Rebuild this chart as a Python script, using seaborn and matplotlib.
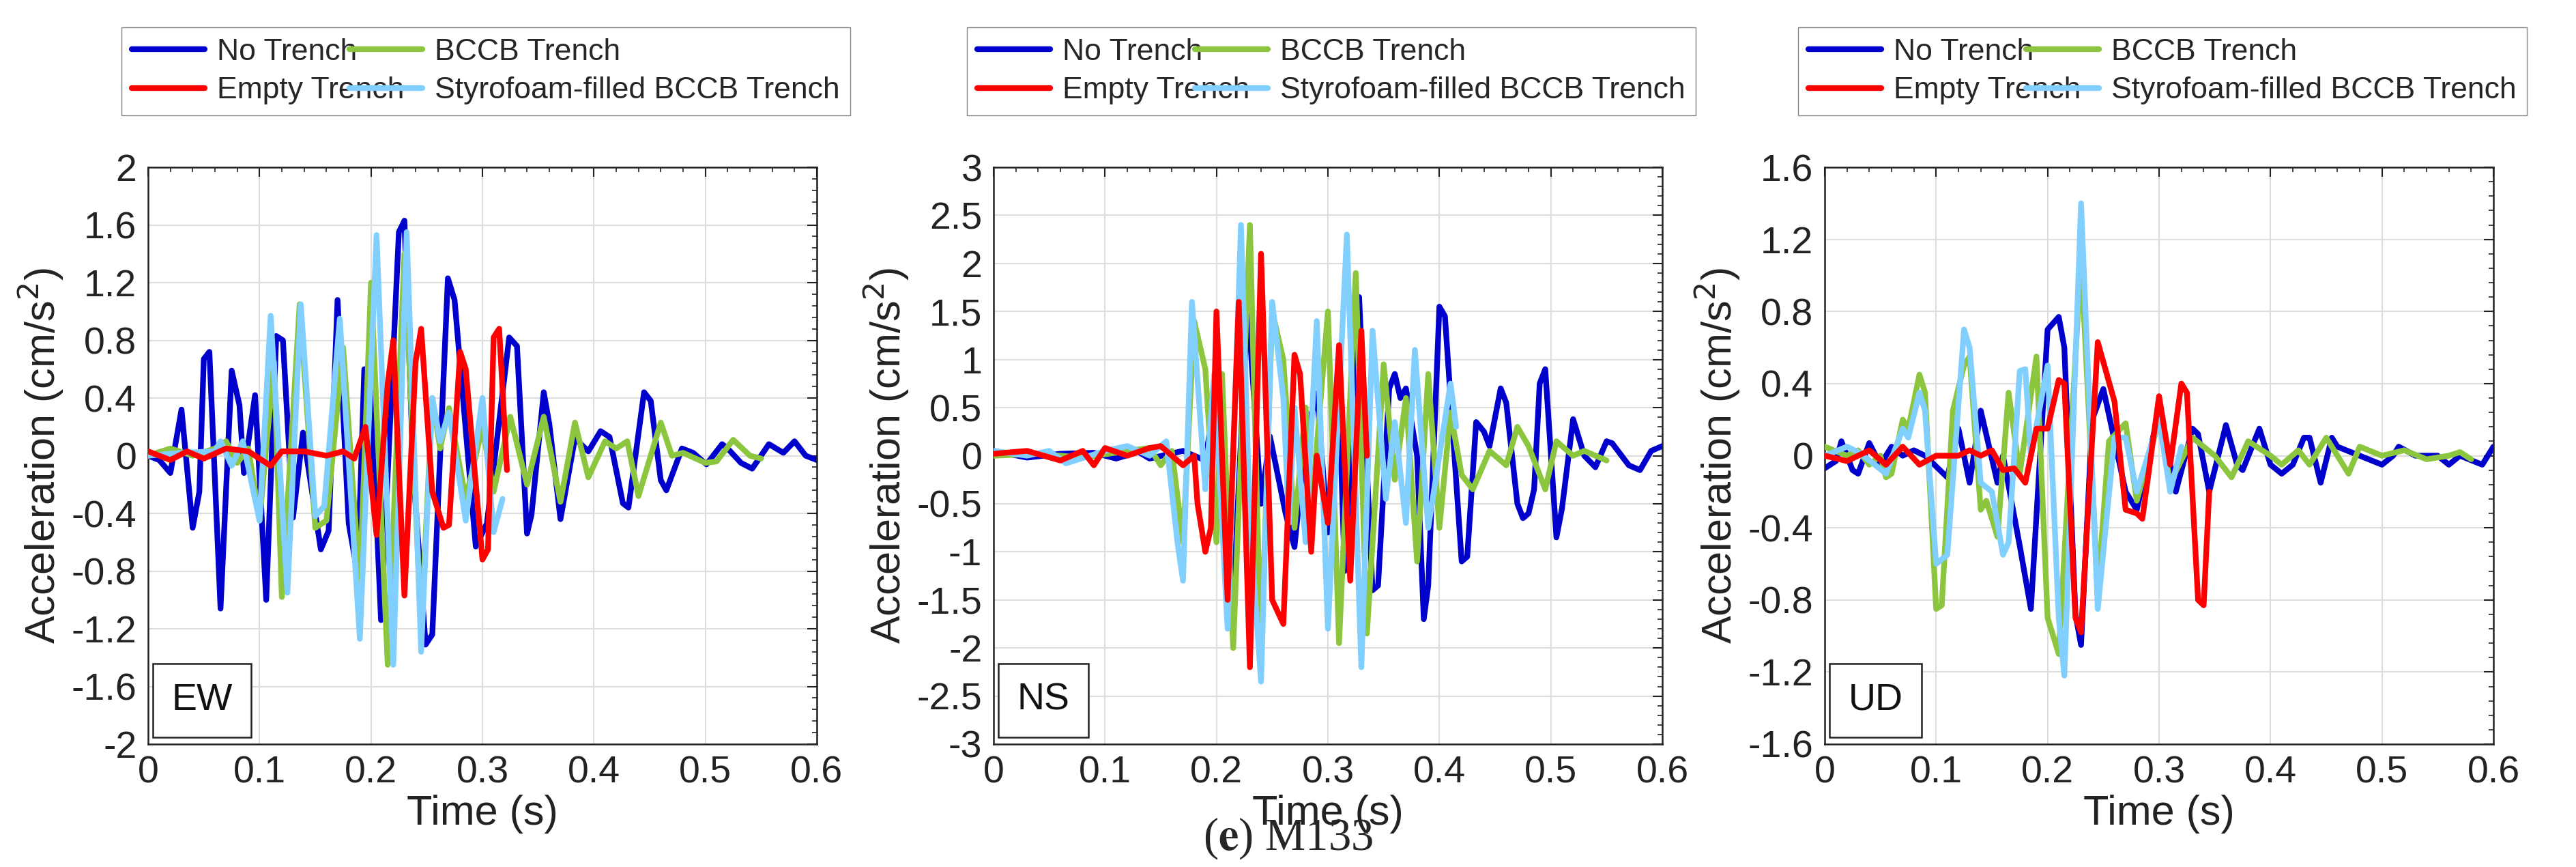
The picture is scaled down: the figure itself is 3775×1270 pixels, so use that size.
import numpy as np
import pandas as pd
import matplotlib
matplotlib.use("Agg")
import matplotlib.pyplot as plt
import seaborn as sns
from matplotlib.ticker import AutoMinorLocator

SERIES = ["No Trench", "Empty Trench", "BCCB Trench", "Styrofoam-filled BCCB Trench"]
COLORS = {"No Trench": "#0000CC", "Empty Trench": "#FF0000",
          "BCCB Trench": "#8CC63F", "Styrofoam-filled BCCB Trench": "#80CFFF"}
PANEL_LABELS = ["EW", "NS", "UD"]
X_TICKS = [0, 0.1, 0.2, 0.3, 0.4, 0.5, 0.6]

# (time s, acceleration cm/s^2)
EW_NO = [(0,0),(0.01,-0.03),(0.02,-0.12),(0.03,0.32),(0.04,-0.5),(0.046,-0.25),(0.05,0.67),(0.055,0.72),(0.065,-1.06),(0.075,0.59),(0.082,0.35),(0.086,-0.12),(0.096,0.42),(0.106,-1.0),(0.115,0.83),(0.121,0.8),(0.13,-0.43),(0.139,0.16),(0.155,-0.65),(0.162,-0.52),(0.17,1.08),(0.18,-0.47),(0.188,-0.82),(0.194,0.6),(0.2,0.44),(0.209,-1.14),(0.225,1.55),(0.23,1.63),(0.238,-0.12),(0.249,-1.31),(0.255,-1.24),(0.269,1.23),(0.275,1.08),(0.294,-0.63),(0.304,-0.47),(0.324,0.82),(0.331,0.76),(0.34,-0.54),(0.344,-0.41),(0.355,0.44),(0.36,0.22),(0.37,-0.44),(0.383,0.12),(0.395,0.03),(0.406,0.17),(0.414,0.13),(0.426,-0.33),(0.431,-0.36),(0.445,0.44),(0.451,0.38),(0.46,-0.17),(0.465,-0.24),(0.479,0.05),(0.489,0.02),(0.501,-0.06),(0.515,0.08),(0.52,0.05),(0.532,-0.05),(0.542,-0.09),(0.557,0.08),(0.57,0.02),(0.58,0.1),(0.59,0.0),(0.6,-0.03)]
EW_EMPTY = [(0,0.03),(0.02,-0.03),(0.035,0.03),(0.05,-0.02),(0.07,0.05),(0.09,0.03),(0.1,-0.02),(0.11,-0.07),(0.12,0.03),(0.14,0.03),(0.16,0.0),(0.175,0.03),(0.185,-0.02),(0.195,0.2),(0.205,-0.55),(0.215,0.5),(0.22,0.8),(0.23,-0.97),(0.24,0.65),(0.245,0.88),(0.255,-0.25),(0.265,-0.5),(0.27,-0.48),(0.28,0.72),(0.285,0.6),(0.3,-0.72),(0.305,-0.65),(0.31,0.82),(0.315,0.88),(0.322,-0.1)]
EW_BCCB = [(0,0.0),(0.02,0.05),(0.04,0.0),(0.06,0.05),(0.07,0.1),(0.08,-0.05),(0.09,0.05),(0.1,-0.45),(0.113,0.65),(0.12,-0.98),(0.136,1.05),(0.15,-0.5),(0.16,-0.45),(0.175,0.75),(0.19,-0.9),(0.2,1.2),(0.215,-1.45),(0.23,1.4),(0.245,-1.2),(0.255,0.4),(0.262,0.05),(0.27,0.33),(0.285,-0.3),(0.3,0.2),(0.31,-0.25),(0.325,0.27),(0.34,-0.2),(0.355,0.27),(0.37,-0.32),(0.383,0.23),(0.395,-0.15),(0.41,0.1),(0.42,0.05),(0.43,0.1),(0.44,-0.28),(0.46,0.23),(0.47,0.0),(0.48,0.02),(0.5,-0.05),(0.51,-0.04),(0.525,0.11),(0.54,0.0),(0.55,-0.02)]
EW_STYRO = [(0,0),(0.03,0.02),(0.06,0.03),(0.065,0.1),(0.075,-0.07),(0.085,0.1),(0.1,-0.45),(0.11,0.97),(0.125,-0.95),(0.137,1.05),(0.15,-0.42),(0.158,-0.35),(0.172,0.95),(0.19,-1.27),(0.205,1.53),(0.22,-1.45),(0.232,1.55),(0.245,-1.36),(0.255,0.4),(0.262,0.1),(0.27,0.3),(0.285,-0.45),(0.3,0.4),(0.31,-0.53),(0.318,-0.3)]

NS_NO = [(0,0.05),(0.03,-0.02),(0.06,0.02),(0.09,0.03),(0.11,-0.03),(0.13,0.04),(0.14,-0.03),(0.17,0.05),(0.19,-0.05),(0.2,0.7),(0.215,-1.5),(0.228,1.6),(0.24,-0.5),(0.248,0.2),(0.262,-0.6),(0.27,-0.95),(0.28,0.2),(0.29,0.65),(0.3,-0.8),(0.31,0.6),(0.315,-1.2),(0.328,1.65),(0.34,-1.4),(0.345,-1.35),(0.355,0.7),(0.36,0.85),(0.365,0.6),(0.37,0.7),(0.38,0.0),(0.386,-1.7),(0.39,-1.35),(0.4,1.55),(0.405,1.45),(0.42,-1.1),(0.425,-1.05),(0.433,0.35),(0.44,0.25),(0.445,0.1),(0.455,0.7),(0.46,0.55),(0.47,-0.5),(0.475,-0.65),(0.48,-0.6),(0.485,-0.35),(0.49,0.75),(0.495,0.9),(0.505,-0.85),(0.51,-0.55),(0.52,0.38),(0.53,0.0),(0.54,-0.12),(0.55,0.15),(0.555,0.13),(0.57,-0.1),(0.58,-0.15),(0.59,0.05),(0.6,0.1)]
NS_EMPTY = [(0,0.02),(0.03,0.05),(0.06,-0.05),(0.08,0.05),(0.09,-0.1),(0.1,0.08),(0.12,0.0),(0.14,0.08),(0.15,0.1),(0.17,-0.1),(0.18,0.0),(0.183,-0.5),(0.19,-1.0),(0.195,-0.75),(0.2,1.5),(0.21,-1.5),(0.22,1.6),(0.23,-2.2),(0.24,2.1),(0.25,-1.5),(0.26,-1.75),(0.27,1.05),(0.275,0.85),(0.285,-1.0),(0.29,0.0),(0.3,-0.7),(0.31,1.15),(0.32,-1.3),(0.33,1.3),(0.335,0.0)]
NS_BCCB = [(0,0.0),(0.04,0.02),(0.08,-0.02),(0.12,0.05),(0.14,0.08),(0.15,-0.1),(0.16,0.05),(0.17,-0.9),(0.18,1.4),(0.19,0.9),(0.2,-0.9),(0.205,0.85),(0.215,-2.0),(0.23,2.4),(0.24,-2.1),(0.25,1.5),(0.26,1.0),(0.27,-0.75),(0.28,0.5),(0.285,-0.6),(0.3,1.5),(0.31,-1.95),(0.325,1.9),(0.335,-1.85),(0.35,0.95),(0.36,-0.25),(0.37,0.6),(0.38,-1.1),(0.39,0.85),(0.4,-0.75),(0.41,0.45),(0.42,-0.2),(0.43,-0.35),(0.445,0.05),(0.46,-0.1),(0.47,0.3),(0.48,0.1),(0.495,-0.35),(0.505,0.15),(0.52,0.0),(0.53,0.05),(0.55,-0.05)]
NS_STYRO = [(0,0.05),(0.03,0.0),(0.05,0.05),(0.065,-0.08),(0.1,0.05),(0.12,0.1),(0.14,0.0),(0.155,0.15),(0.165,-0.9),(0.17,-1.3),(0.178,1.6),(0.19,-0.35),(0.198,0.85),(0.21,-1.8),(0.222,2.4),(0.23,-0.7),(0.24,-2.35),(0.25,1.6),(0.26,0.6),(0.265,-0.7),(0.27,0.5),(0.28,-0.9),(0.29,1.4),(0.3,-1.8),(0.317,2.3),(0.33,-2.2),(0.34,1.3),(0.352,-0.45),(0.36,0.35),(0.37,-0.7),(0.378,1.1),(0.39,-0.75),(0.41,0.75),(0.415,0.3)]

UD_NO = [(0,-0.07),(0.01,-0.03),(0.015,0.08),(0.025,-0.08),(0.03,-0.1),(0.04,0.07),(0.05,-0.05),(0.06,0.05),(0.07,0.0),(0.08,0.03),(0.09,0.0),(0.1,-0.06),(0.11,-0.12),(0.12,0.15),(0.13,-0.15),(0.14,0.25),(0.155,-0.15),(0.16,0.0),(0.175,-0.5),(0.185,-0.85),(0.2,0.7),(0.21,0.77),(0.215,0.6),(0.225,-0.88),(0.23,-1.05),(0.24,0.2),(0.25,0.37),(0.27,-0.2),(0.28,-0.3),(0.3,0.25),(0.31,-0.05),(0.315,-0.2),(0.33,0.15),(0.335,0.12),(0.345,-0.2),(0.36,0.17),(0.37,-0.05),(0.375,-0.08),(0.39,0.15),(0.4,-0.05),(0.41,-0.1),(0.42,-0.05),(0.43,0.1),(0.435,0.1),(0.445,-0.15),(0.455,0.1),(0.46,0.05),(0.48,0.0),(0.5,-0.05),(0.51,0.0),(0.515,0.05),(0.53,0.0),(0.55,0.0),(0.56,-0.05),(0.57,0.0),(0.59,-0.05),(0.6,0.05)]
UD_EMPTY = [(0,0),(0.02,-0.03),(0.04,0.03),(0.055,-0.05),(0.07,0.05),(0.085,-0.05),(0.1,0.0),(0.12,0.0),(0.13,0.03),(0.14,0.0),(0.15,0.03),(0.16,-0.08),(0.17,-0.07),(0.18,-0.15),(0.19,0.15),(0.2,0.15),(0.21,0.42),(0.215,0.4),(0.225,-0.9),(0.23,-0.98),(0.245,0.63),(0.26,0.3),(0.27,-0.3),(0.28,-0.32),(0.285,-0.35),(0.3,0.33),(0.31,-0.05),(0.32,0.4),(0.325,0.35),(0.335,-0.8),(0.34,-0.83),(0.345,-0.2)]
UD_BCCB = [(0,0.05),(0.02,0.0),(0.03,0.03),(0.04,-0.05),(0.05,0.0),(0.055,-0.12),(0.06,-0.1),(0.07,0.2),(0.075,0.15),(0.085,0.45),(0.09,0.35),(0.1,-0.85),(0.105,-0.83),(0.115,0.25),(0.125,0.5),(0.13,0.55),(0.14,-0.3),(0.145,-0.25),(0.155,-0.45),(0.165,0.35),(0.175,-0.1),(0.19,0.55),(0.2,-0.9),(0.21,-1.1),(0.23,1.1),(0.245,-0.75),(0.255,0.08),(0.27,0.18),(0.28,-0.25),(0.3,0.2),(0.31,-0.15),(0.33,0.1),(0.35,0.0),(0.365,-0.12),(0.38,0.08),(0.4,0.0),(0.41,-0.05),(0.425,0.03),(0.435,-0.05),(0.45,0.1),(0.47,-0.1),(0.48,0.05),(0.5,0.0),(0.52,0.03),(0.54,-0.02),(0.56,0.0),(0.57,0.02),(0.58,-0.02)]
UD_STYRO = [(0,0),(0.02,0.05),(0.03,0.02),(0.045,-0.05),(0.055,-0.1),(0.07,0.15),(0.075,0.1),(0.085,0.35),(0.09,0.25),(0.1,-0.6),(0.11,-0.55),(0.125,0.7),(0.13,0.6),(0.14,-0.15),(0.15,-0.2),(0.16,-0.55),(0.165,-0.48),(0.175,0.47),(0.18,0.48),(0.185,0.0),(0.2,0.5),(0.21,-0.9),(0.215,-1.22),(0.23,1.4),(0.245,-0.85),(0.26,0.1),(0.27,0.1),(0.28,-0.2),(0.3,0.2),(0.31,-0.2),(0.32,0.05)]

PANELS = [
    dict(label="EW", data=[EW_NO, EW_EMPTY, EW_BCCB, EW_STYRO], ylim=(-2, 2), yticks=np.arange(-2, 2.01, 0.4)),
    dict(label="NS", data=[NS_NO, NS_EMPTY, NS_BCCB, NS_STYRO], ylim=(-3, 3), yticks=np.arange(-3, 3.01, 0.5)),
    dict(label="UD", data=[UD_NO, UD_EMPTY, UD_BCCB, UD_STYRO], ylim=(-1.6, 1.6), yticks=np.arange(-1.6, 1.61, 0.4)),
]

sns.set_theme(style="white")
plt.rcParams['font.family'] = ['Liberation Sans', 'DejaVu Sans']

fig = plt.figure(figsize=(37.75, 12.7), dpi=100)
lefts = [217, 1456, 2674]
width = 980
top, bottom = 245, 1090
W, H = 3775, 1270
zorders = {"No Trench": 2, "BCCB Trench": 3, "Styrofoam-filled BCCB Trench": 4, "Empty Trench": 5}

def fmt(v):
    s = f"{v:.1f}".rstrip('0').rstrip('.')
    return "0" if s in ("-0", "0") else s

for i, p in enumerate(PANELS):
    ax = fig.add_axes([lefts[i] / W, 1 - bottom / H, width / W, (bottom - top) / H])
    for name, pts in zip(SERIES, p["data"]):
        df = pd.DataFrame(pts, columns=["t", "a"])
        sns.lineplot(data=df, x="t", y="a", ax=ax, color=COLORS[name], lw=6,
                     label=name, zorder=zorders[name], sort=False, estimator=None)
    ax.set_xlim(0, 0.6)
    ax.set_ylim(*p["ylim"])
    ax.set_xticks(X_TICKS)
    ax.set_xticklabels([fmt(x) for x in X_TICKS])
    ax.set_yticks(p["yticks"])
    ax.set_yticklabels([fmt(y) for y in p["yticks"]])
    ax.xaxis.set_minor_locator(AutoMinorLocator(5))
    ax.yaxis.set_minor_locator(AutoMinorLocator(5))
    ax.grid(True, which="major", color="#dddddd", lw=1.5)
    ax.tick_params(which="both", direction="in", top=True, right=True, labelsize=40, colors="#222222")
    ax.tick_params(which="major", length=10, width=1.5, pad=12)
    ax.tick_params(which="minor", length=5, width=1.2)
    for s in ax.spines.values():
        s.set_color("#222222"); s.set_linewidth(1.8)
    ax.set_xlabel("Time (s)", fontsize=44, color="#222222", labelpad=4)
    ax.set_ylabel("Acceleration (cm/s$^2$)", fontsize=44, color="#222222", labelpad=6)
    ax.text(0.035, 0.045, p["label"], transform=ax.transAxes, fontsize=40, color="#111111",
            va="bottom", ha="left",
            bbox=dict(boxstyle="square,pad=0.5", fc="white", ec="#222222", lw=1.8))
    h, l = ax.get_legend_handles_labels()
    leg = ax.legend(h, l, loc="lower left", bbox_to_anchor=(-0.04, 1.09, 1.09, 0.19), mode="expand",
              ncol=2, fontsize=32, frameon=True, fancybox=False, edgecolor="#666666",
              handlelength=2.4, borderaxespad=0, columnspacing=0.8, labelspacing=0.35,
              handletextpad=0.4, borderpad=0.35)
    for ln in leg.get_lines():
        ln.set_linewidth(6)

plt.rcParams['mathtext.fontset'] = 'stix'
fig.text(0.5, 1 - 1228 / H, r"($\mathbf{e}$) M133", ha="center", va="center", fontsize=48,
         family="Liberation Serif")
fig.savefig("out.png", dpi=100, facecolor="white")
